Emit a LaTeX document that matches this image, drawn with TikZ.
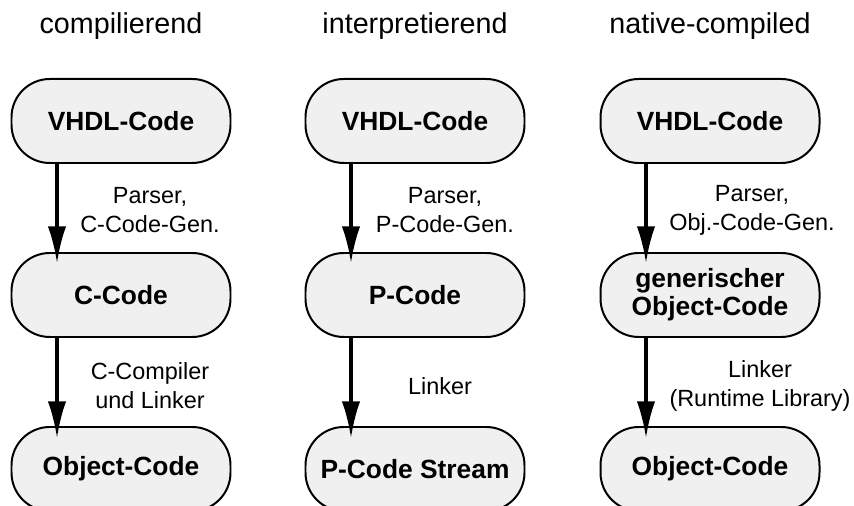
\documentclass[tikz,border=0pt]{standalone}
\usepackage{fontspec}
\setmainfont{Liberation Sans}
\usetikzlibrary{positioning, arrows.meta}
\definecolor{boxgray}{RGB}{240,240,240}

\tikzset{
  stage/.style={draw, line width=1.7pt, fill=boxgray, rounded corners=1.15cm,
    minimum width=6.57cm, minimum height=2.52cm, inner sep=0pt, align=center,
    font=\fontsize{22.5}{24}\selectfont\bfseries},
  flow/.style={-{Latex[length=1.1cm,width=0.55cm]}, line width=2.7pt},
  steplabel/.style={align=center, font=\fontsize{20}{24.8}\selectfont},
  headline/.style={anchor=base, font=\fontsize{24.5}{28}\selectfont}
}

\begin{document}
\begin{tikzpicture}
        \useasboundingbox (0,0) rectangle (25.62,15.18);
        \begin{scope}[xshift=3.63cm]
            \node[headline] (t1) at (0,14.16) {compilierend};
            \node[stage] (v1) at (0,11.55) {VHDL-Code};
            \node[stage] (c1) at (0,6.33) {C-Code};
            \node[stage] (o1) at (0,1.11) {Object-Code};
            \draw[flow] ([xshift=-1.92cm]v1.south) -- ([xshift=-1.92cm,yshift=-0.33cm]c1.north);
            \draw[flow] ([xshift=-1.92cm]c1.south) -- ([xshift=-1.92cm,yshift=-0.36cm]o1.north);
            \node[steplabel] (l1) at (0.87,8.88) {Parser,\\C-Code-Gen.};
            \node[steplabel] (l2) at (0.87,3.6) {C-Compiler\\und Linker};
        \end{scope}
        \begin{scope}[xshift=12.45cm]
            \node[headline] (t2) at (0,14.16) {interpretierend};
            \node[stage] (v2) at (0,11.55) {VHDL-Code};
            \node[stage] (p2) at (0,6.33) {P-Code};
            \node[stage] (s2) at (0,1.11) {P-Code Stream};
            \draw[flow] ([xshift=-1.92cm]v2.south) -- ([xshift=-1.92cm,yshift=-0.33cm]p2.north);
            \draw[flow] ([xshift=-1.92cm]p2.south) -- ([xshift=-1.92cm,yshift=-0.36cm]s2.north);
            \node[steplabel] (l3) at (0.9,8.88) {Parser,\\P-Code-Gen.};
            \node[steplabel] (l4) at (0.75,3.6) {Linker};
        \end{scope}
        \begin{scope}[xshift=21.3cm]
            \node[headline] (t3) at (0,14.16) {native-compiled};
            \node[stage] (v3) at (0,11.55) {VHDL-Code};
            \node[stage] (g3) at (0,6.33) {generischer\\Object-Code};
            \node[stage] (o3) at (0,1.11) {Object-Code};
            \draw[flow] ([xshift=-1.92cm]v3.south) -- ([xshift=-1.92cm,yshift=-0.33cm]g3.north);
            \draw[flow] ([xshift=-1.92cm]g3.south) -- ([xshift=-1.92cm,yshift=-0.36cm]o3.north);
            \node[steplabel] (l5) at (1.26,8.88) {Parser,\\Obj.-Code-Gen.};
            \node[steplabel] (l6) at (1.5,3.6) {Linker\\(Runtime Library)};
        \end{scope}
    \end{tikzpicture}
\end{document}
